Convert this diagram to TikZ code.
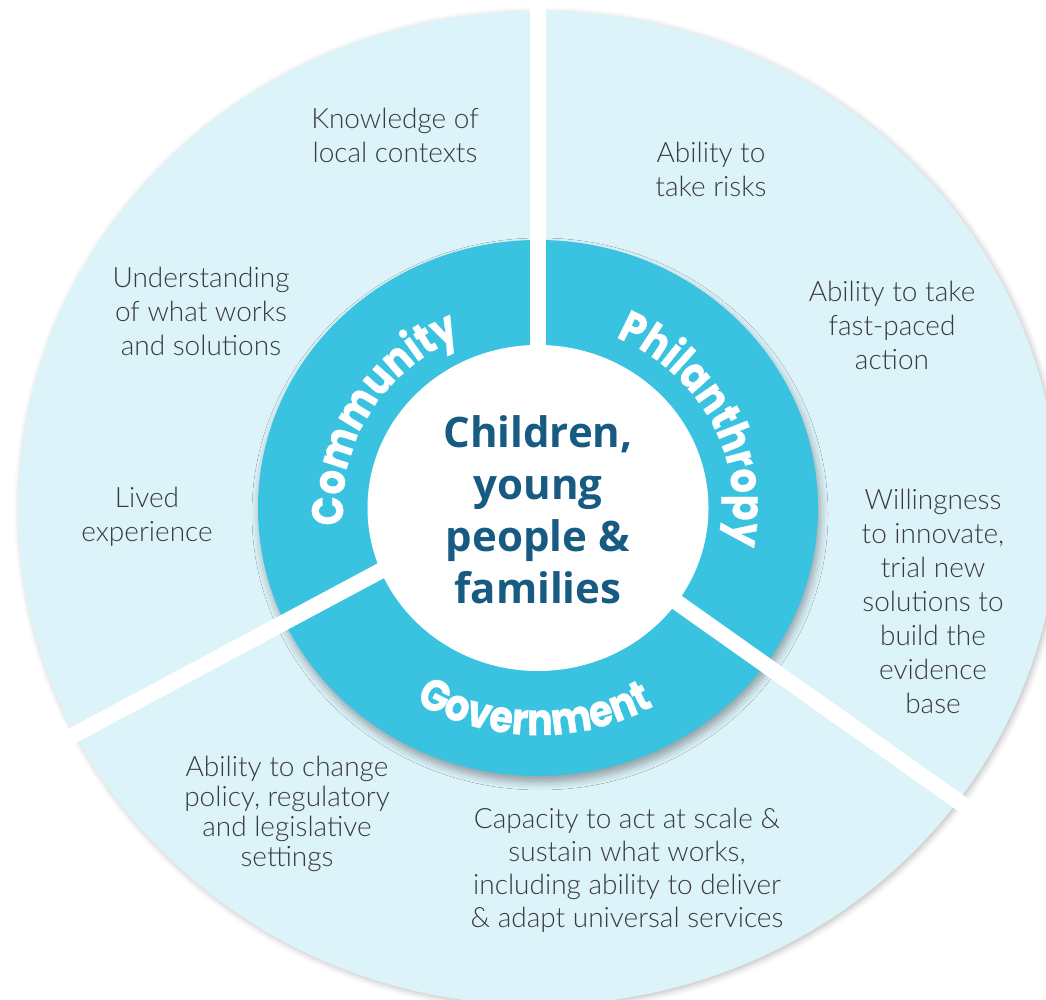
\documentclass[tikz,border=0pt]{standalone}
\usepackage{fontspec}
\setmainfont{Lato}[UprightFont=* Light, BoldFont=*]
\newfontfamily\hubfont{Open Sans}
\newfontfamily\ringfont{Poppins}[FakeStretch=0.87, FakeBold=0.8]
\usetikzlibrary{decorations.text,shadows.blur}

\definecolor{paleblue}{HTML}{DDF3FA}
\definecolor{ringblue}{HTML}{3AC3E1}
\definecolor{deepblue}{HTML}{175A82}
\definecolor{inkgray}{HTML}{3A3A3A}

\tikzset{
  aside/.style={align=center, text=inkgray, font=\fontsize{28}{34}\selectfont},
  hub/.style={align=center, text=deepblue, font=\hubfont\bfseries\fontsize{42}{52}\selectfont},
  ringlabel/.style={decorate, decoration={text along path, text align=center,
      text color=white, text={|\ringfont\bfseries\fontsize{44}{44}\selectfont|#1}}},
  cutline/.style={white, line width=16}
}

\begin{document}
\begin{tikzpicture}[x=1pt, y=1pt]
  \useasboundingbox (0,0) rectangle (1046,1000);
  \clip (0,0) rectangle (1046,1000);
  \coordinate (C) at (538,492);

  % Outer disc and ring
  \fill[paleblue, blur shadow={shadow xshift=2pt, shadow yshift=-2pt,
      shadow blur radius=6pt, shadow opacity=25}] (C) ellipse[x radius=520, y radius=497];
  \fill[ringblue, blur shadow={shadow xshift=2pt, shadow yshift=-6pt,
      shadow blur radius=8pt, shadow opacity=35}] (C) ellipse[x radius=280, y radius=268];

  % Spokes between the three sectors
  \draw[cutline] (C) -- (538,1000);
  \draw[cutline] (470,477) -- (29,241);
  \draw[cutline] (620,438) -- (1010,162);

  % Hub
  \fill[white] (C) ellipse[x radius=170.5, y radius=163];
  \node[hub] (hub) at (538,490) {Children,\\young\\people \&\\families};

  % Sector names on the ring
  \path[ringlabel=Community] (C) ++(226:195 and 186)
    arc[start angle=226, end angle=74, x radius=195, y radius=186];
  \path[ringlabel=Philanthropy] (C) ++(102:195 and 186)
    arc[start angle=102, end angle=-48, x radius=195, y radius=186];
  \path[ringlabel=Government] (C) ++(194:237 and 227)
    arc[start angle=194, end angle=344, x radius=237, y radius=227];

  % Community
  \node[aside] (knowledge) at (395,865) {Knowledge of\\local contexts};
  \node[aside] (understanding) at (201,689) {Understanding\\of what works\\and solutions};
  \node[aside] (lived) at (147,483) {Lived\\experience};

  % Philanthropy
  \node[aside] (risks) at (711,831) {Ability to\\take risks};
  \node[aside] (fastpace) at (892,675) {Ability to take\\fast-paced\\action};
  \node[aside] (innovate) at (933,399) {Willingness\\to innovate,\\trial new\\solutions to\\build the\\evidence\\base};

  % Government
  \node[aside, font=\fontsize{28}{30}\selectfont] (policy) at (287,186)
    {Ability to change\\policy, regulatory\\and legislative\\settings};
  \node[aside, font=\fontsize{28}{33}\selectfont] (scale) at (627,130)
    {Capacity to act at scale \&\\sustain what works,\\including ability to deliver\\\& adapt universal services};
\end{tikzpicture}
\end{document}
